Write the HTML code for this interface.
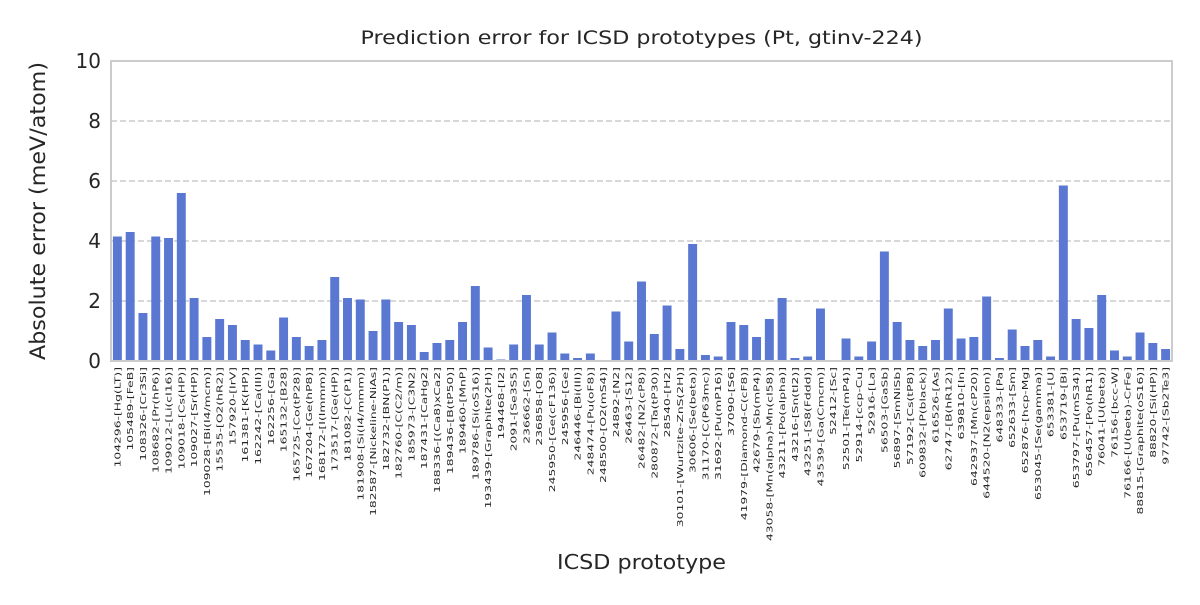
<!DOCTYPE html>
<html><head><meta charset="utf-8"><style>
body{margin:0;background:#fff;font-family:"Liberation Sans","DejaVu Sans",sans-serif}
</style></head><body>
<svg id="c" width="1200" height="600" xmlns="http://www.w3.org/2000/svg" font-family="DejaVu Sans, Liberation Sans, sans-serif"></svg>
<script>
const categories=["104296-[Hg(LT)]","105489-[FeB]","108326-[Cr3Si]","108682-[Pr(hP6)]","109012-[Li(cI16)]","109018-[Cs(HP)]","109027-[Sr(HP)]","109028-[Bi(I4/mcm)]","15535-[O2(hR2)]","157920-[IrV]","161381-[K(HP)]","162242-[Ca(III)]","162256-[Ga]","165132-[B28]","165725-[Co(tP28)]","167204-[Ge(hP8)]","168172-[I(Immm)]","173517-[Ge(HP)]","181082-[C(P1)]","181908-[Si(I4/mmm)]","182587-[Nickeline-NiAs]","182732-[BN(P1)]","182760-[C(C2/m)]","185973-[C3N2]","187431-[CaHg2]","188336-[(Ca8)xCa2]","189436-[B(tP50)]","189460-[MnP]","189786-[Si(oS16)]","193439-[Graphite(2H)]","194468-[I2]","2091-[Se3S5]","236662-[Sn]","236858-[O8]","245950-[Ge(cF136)]","245956-[Ge]","246446-[Bi(III)]","248474-[Pu(oF8)]","248500-[O2(mS4)]","24892-[N2]","26463-[S12]","26482-[N2(cP8)]","280872-[Ta(tP30)]","28540-[H2]","30101-[Wurtzite-ZnS(2H)]","30606-[Se(beta)]","31170-[C(P63mc)]","31692-[Pu(mP16)]","37090-[S6]","41979-[Diamond-C(cF8)]","42679-[Sb(mP4)]","43058-[Mn(alpha)-Mn(cI58)]","43211-[Po(alpha)]","43216-[Sn(tI2)]","43251-[S8(Fddd)]","43539-[Ga(Cmcm)]","52412-[Sc]","52501-[Te(mP4)]","52914-[ccp-Cu]","52916-[La]","56503-[GaSb]","56897-[SmNiSb]","57192-[Cs(tP8)]","609832-[P(black)]","616526-[As]","62747-[B(hR12)]","639810-[In]","642937-[Mn(cP20)]","644520-[N2(epsilon)]","648333-[Pa]","652633-[Sm]","652876-[hcp-Mg]","653045-[Se(gamma)]","653381-[U]","653719-[Bi]","653797-[Pu(mS34)]","656457-[Po(hR1)]","76041-[U(beta)]","76156-[bcc-W]","76166-[U(beta)-CrFe]","88815-[Graphite(oS16)]","88820-[Si(HP)]","97742-[Sb2Te3]"];
const values=[4.15,4.3,1.6,4.15,4.1,5.6,2.1,0.8,1.4,1.2,0.7,0.55,0.35,1.45,0.8,0.5,0.7,2.8,2.1,2.05,1.0,2.05,1.3,1.2,0.3,0.6,0.7,1.3,2.5,0.45,0.05,0.55,2.2,0.55,0.95,0.25,0.1,0.25,0.02,1.65,0.65,2.65,0.9,1.85,0.4,3.9,0.2,0.15,1.3,1.2,0.8,1.4,2.1,0.1,0.15,1.75,0,0.75,0.15,0.65,3.65,1.3,0.7,0.5,0.7,1.75,0.75,0.8,2.15,0.1,1.05,0.5,0.7,0.15,5.85,1.4,1.1,2.2,0.35,0.15,0.95,0.6,0.4];
const yTicks=[0,2,4,6,8,10];
const svg=document.getElementById('c');const NS='http://www.w3.org/2000/svg';
const L=111,R=1172,T=61,B=361,yMax=10;
const step=(R-L)/categories.length;
const xs=i=>L+step*(i+0.5);
const ys=v=>B-(v/yMax)*(B-T);
function mk(t,a,p){const e=document.createElementNS(NS,t);for(const k in a)e.setAttribute(k,a[k]);(p||svg).appendChild(e);return e;}
let e=mk('rect',{x:L,y:T,width:R-L,height:B-T,fill:'#fff'});


yTicks.forEach(t=>{
 if(t>0&&t<yMax){let g=mk('line',{x1:L,x2:R,y1:ys(t),y2:ys(t),stroke:'#ccc','stroke-width':1.5,'stroke-dasharray':'6,3'});
 
 }
 let tx=mk('text',{x:L-10,y:ys(t)+7,'text-anchor':'end','font-size':20,fill:'#262626'});tx.textContent=t;
 
 
});
values.forEach((v,i)=>{
 const w=step*0.7;
 let r=mk('rect',{x:xs(i)-w/2,y:ys(v),width:w,height:B-ys(v),fill:'#5a78d2'});
 
 
 let tx=mk('text',{transform:`translate(${xs(i)+3},367) rotate(-90) scale(1.37,0.9)`,'text-anchor':'end','font-size':9,fill:'#262626'});tx.textContent=categories[i];
 
 
});
e=mk('rect',{x:L,y:T,width:R-L,height:B-T,fill:'none',stroke:'#ccc','stroke-width':2});


e=mk('text',{x:(L+R)/2,y:44,'text-anchor':'middle','font-size':19,fill:'#262626',textLength:562,lengthAdjust:'spacingAndGlyphs'});e.textContent='Prediction error for ICSD prototypes (Pt, gtinv-224)';


e=mk('text',{x:641.5,y:569,'text-anchor':'middle','font-size':20,fill:'#262626',textLength:169,lengthAdjust:'spacingAndGlyphs'});e.textContent='ICSD prototype';


e=mk('text',{transform:`translate(45,211) rotate(-90)`,'text-anchor':'middle','font-size':21,fill:'#262626',textLength:298,lengthAdjust:'spacingAndGlyphs'});e.textContent='Absolute error (meV/atom)';


</script>
</body></html>
